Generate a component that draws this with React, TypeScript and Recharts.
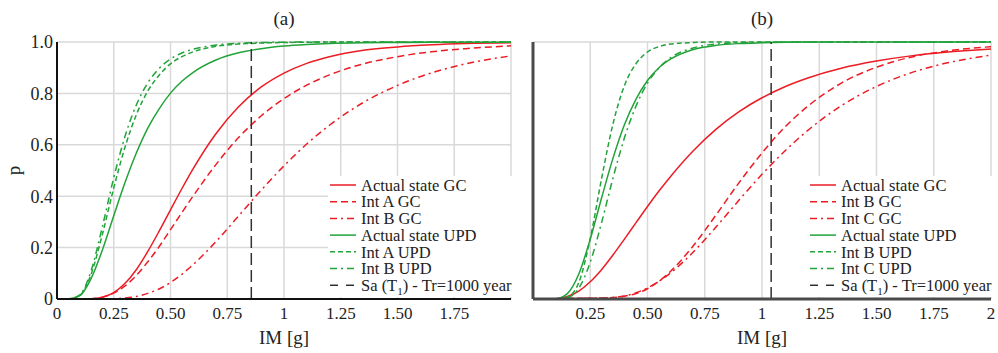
import { CartesianGrid, Legend, Line, LineChart, ReferenceLine, XAxis, YAxis } from "recharts";

// IM grid [g] shared by both panels
const im = [0, 0.05, 0.1, 0.15, 0.2, 0.25, 0.3, 0.35, 0.4, 0.45, 0.5, 0.55, 0.6, 0.7, 0.8, 0.9, 1.0, 1.1, 1.2, 1.35, 1.5, 1.65, 1.8, 2.0];

// panel (a)
const aActualGC = [0, 0, 0, 0.001, 0.007, 0.025, 0.061, 0.115, 0.185, 0.264, 0.347, 0.429, 0.507, 0.643, 0.748, 0.825, 0.879, 0.917, 0.943, 0.968, 0.981, 0.989, 0.994, 0.997];
const aIntAGC = [0, 0, 0, 0.001, 0.007, 0.023, 0.051, 0.092, 0.145, 0.204, 0.27, 0.336, 0.401, 0.523, 0.628, 0.713, 0.78, 0.832, 0.872, 0.915, 0.943, 0.962, 0.974, 0.985];
const aIntBGC = [0, 0, 0, 0, 0, 0.001, 0.004, 0.01, 0.022, 0.039, 0.064, 0.096, 0.134, 0.223, 0.323, 0.424, 0.518, 0.603, 0.676, 0.765, 0.831, 0.88, 0.915, 0.946];
const aActualUPD = [0, 0.001, 0.012, 0.079, 0.191, 0.324, 0.454, 0.569, 0.665, 0.74, 0.801, 0.847, 0.882, 0.93, 0.958, 0.974, 0.984, 0.99, 0.994, 0.997, 0.998, 0.999, 0.999, 1];
const aIntAUPD = [0, 0, 0.014, 0.096, 0.252, 0.432, 0.592, 0.718, 0.809, 0.871, 0.915, 0.943, 0.962, 0.983, 0.992, 0.996, 0.998, 0.999, 1, 1, 1, 1, 1, 1];
const aIntBUPD = [0, 0, 0.016, 0.109, 0.282, 0.472, 0.634, 0.756, 0.841, 0.897, 0.934, 0.957, 0.972, 0.988, 0.995, 0.998, 0.999, 1, 1, 1, 1, 1, 1, 1];

// panel (b)
const bActualGC = [0, 0, 0.001, 0.01, 0.031, 0.067, 0.115, 0.172, 0.234, 0.297, 0.36, 0.42, 0.476, 0.577, 0.661, 0.729, 0.783, 0.826, 0.86, 0.899, 0.926, 0.946, 0.96, 0.973];
const bIntBGC = [0, 0, 0, 0.002, 0.003, 0.003, 0.004, 0.006, 0.011, 0.021, 0.04, 0.069, 0.107, 0.207, 0.328, 0.453, 0.568, 0.669, 0.75, 0.842, 0.902, 0.941, 0.964, 0.982];
const bIntCGC = [0, 0, 0, 0.001, 0.002, 0.003, 0.004, 0.006, 0.012, 0.024, 0.043, 0.069, 0.101, 0.183, 0.281, 0.385, 0.485, 0.576, 0.656, 0.754, 0.827, 0.88, 0.917, 0.949];
const bActualUPD = [0, 0, 0.001, 0.021, 0.097, 0.233, 0.395, 0.55, 0.68, 0.778, 0.85, 0.9, 0.933, 0.971, 0.987, 0.994, 0.997, 0.999, 1, 1, 1, 1, 1, 1];
const bIntBUPD = [0, 0, 0, 0.008, 0.064, 0.235, 0.471, 0.684, 0.832, 0.916, 0.961, 0.982, 0.992, 0.998, 1, 1, 1, 1, 1, 1, 1, 1, 1, 1];
const bIntCUPD = [0, 0, 0, 0.005, 0.042, 0.143, 0.299, 0.473, 0.629, 0.751, 0.84, 0.899, 0.938, 0.977, 0.992, 0.997, 0.999, 1, 1, 1, 1, 1, 1, 1];

// Sa(T1) for Tr = 1000 years
const saA = 0.856;
const saB = 1.04;

const xTicks = [0, 0.25, 0.5, 0.75, 1, 1.25, 1.5, 1.75, 2];
const xLabelsA = ["0", "0.25", "0.50", "0.75", "1", "1.25", "1.50", "1.75", ""];
const xLabelsB = ["", "0.25", "0.50", "0.75", "1", "1.25", "1.50", "1.75", "2"];
const yTicks = [0, 0.2, 0.4, 0.6, 0.8, 1];
const yLabels = ["0", "0.2", "0.4", "0.6", "0.8", "1.0"];

const RED = "#ec1c24";
const GREEN = "#22a33a";
const SERIF = '"Liberation Serif", "Times New Roman", serif';
const DASH = "7 4";
const DASH_G = "5 3";
const DASH_DOT = "7 4 2 4";

type Series = { key: string; name: string; color: string; dash?: string; values: number[] };

const seriesA: Series[] = [
  { key: "gc", name: "Actual state GC", color: RED, values: aActualGC },
  { key: "gcA", name: "Int A GC", color: RED, dash: DASH, values: aIntAGC },
  { key: "gcB", name: "Int B GC", color: RED, dash: DASH_DOT, values: aIntBGC },
  { key: "upd", name: "Actual state UPD", color: GREEN, values: aActualUPD },
  { key: "updA", name: "Int A UPD", color: GREEN, dash: DASH_G, values: aIntAUPD },
  { key: "updB", name: "Int B UPD", color: GREEN, dash: DASH_DOT, values: aIntBUPD },
];

const seriesB: Series[] = [
  { key: "gc", name: "Actual state GC", color: RED, values: bActualGC },
  { key: "gcB", name: "Int B GC", color: RED, dash: DASH, values: bIntBGC },
  { key: "gcC", name: "Int C GC", color: RED, dash: DASH_DOT, values: bIntCGC },
  { key: "upd", name: "Actual state UPD", color: GREEN, values: bActualUPD },
  { key: "updB", name: "Int B UPD", color: GREEN, dash: DASH_G, values: bIntBUPD },
  { key: "updC", name: "Int C UPD", color: GREEN, dash: DASH_DOT, values: bIntCUPD },
];

function toRows(series: Series[]) {
  return im.map((x, i) => {
    const row: Record<string, number> = { im: x };
    series.forEach((s) => (row[s.key] = s.values[i]));
    return row;
  });
}

function CurveLegend({ series }: { series: Series[] }) {
  const rowH = 16.7;
  return (
    <svg width={190} height={122} style={{ display: "block", overflow: "visible" }}>
      {series.map((s, i) => (
        <g key={s.key} transform={`translate(2, ${9 + i * rowH})`}>
          <line x1={0} x2={26} y1={0} y2={0} stroke={s.color} strokeWidth={1.5} strokeDasharray={s.dash} />
          <text x={31} y={0} dy="0.35em" fontSize={16.5} fontFamily={SERIF} fill="#222">
            {s.name}
          </text>
        </g>
      ))}
      <g transform={`translate(2, ${9 + series.length * rowH})`}>
        <line x1={0} x2={26} y1={0} y2={0} stroke="#333" strokeWidth={1.5} strokeDasharray="8 8" />
        <text x={31} y={0} dy="0.35em" fontSize={16.5} fontFamily={SERIF} fill="#222">
          Sa (T
          <tspan fontSize={11} dy={4}>1</tspan>
          <tspan dy={-4}>) - Tr=1000 year</tspan>
        </text>
      </g>
    </svg>
  );
}

const PLabel = (props: any) => {
  const vb = props.viewBox;
  const cx = 14;
  const cy = vb.y + vb.height / 2;
  return (
    <text x={cx} y={cy} transform={`rotate(-90 ${cx} ${cy})`} textAnchor="middle" dy="0.3em" fontSize={19} fontFamily={SERIF} fill="#222">
      p
    </text>
  );
};

const tickStyle = { fontSize: 17, fontFamily: SERIF, fill: "#222" };

function Panel({
  series,
  sa,
  xLabels,
  width,
  left,
  showY,
  legendLeft,
}: {
  series: Series[];
  sa: number;
  xLabels: string[];
  width: number;
  left: number;
  showY: boolean;
  legendLeft: number;
}) {
  const axisColor = showY ? "#111" : "#4a4a4a";
  return (
    <div style={{ position: "absolute", left, top: 0 }}>
      <LineChart width={width} height={353} data={toRows(series)} margin={{ top: 42, right: showY ? 9 : 7, bottom: 0, left: 0 }}>
        <CartesianGrid stroke="#d9d9d9" strokeWidth={1.5} />
        <XAxis
          dataKey="im"
          type="number"
          domain={[0, 2]}
          ticks={xTicks}
          interval={0}
          height={54}
          tickLine={false}
          tickSize={6}
          tick={tickStyle}
          tickFormatter={(v: number) => xLabels[xTicks.indexOf(v)] ?? ""}
          axisLine={{ stroke: axisColor, strokeWidth: showY ? 2 : 3 }}
          label={{ value: "IM [g]", position: "insideBottom", offset: 9, fontSize: 19, fontFamily: SERIF, fill: "#222" }}
        />
        <YAxis
          type="number"
          domain={[0, 1]}
          ticks={yTicks}
          interval={0}
          width={showY ? 57 : 13}
          tickLine={false}
          tickSize={2}
          tick={showY ? { fontSize: 18, fontFamily: SERIF, fill: "#222" } : false}
          tickFormatter={(v: number) => yLabels[yTicks.indexOf(v)] ?? ""}
          axisLine={{ stroke: axisColor, strokeWidth: showY ? 2 : 3 }}
          label={showY ? { content: PLabel } : undefined}
        />
        {series.map((s) => (
          <Line
            key={s.key}
            type="monotone"
            dataKey={s.key}
            name={s.name}
            stroke={s.color}
            strokeWidth={1.5}
            strokeDasharray={s.dash}
            dot={false}
            activeDot={false}
            isAnimationActive={false}
          />
        ))}
        <ReferenceLine x={sa} stroke="#333" strokeWidth={1.5} strokeDasharray="12 5" />
        <Legend
          layout="vertical"
          align="center"
          verticalAlign="middle"
          content={() => <CurveLegend series={series} />}
          wrapperStyle={{ left: legendLeft, top: 176, width: 190, height: 121, background: "#fff" }}
        />
      </LineChart>
    </div>
  );
}

export default function App() {
  const title = { position: "absolute" as const, top: 9, fontSize: 19, lineHeight: "19px", fontFamily: SERIF, color: "#222", transform: "translateX(-50%)" };
  return (
    <div style={{ position: "absolute", left: 0, top: 0, width: 998, height: 353, background: "#fff", overflow: "hidden" }}>
      <Panel series={seriesA} sa={saA} xLabels={xLabelsA} width={520} left={0} showY legendLeft={328} />
      <Panel series={seriesB} sa={saB} xLabels={xLabelsB} width={478} left={520} showY={false} legendLeft={288} />
      <div style={{ ...title, left: 284 }}>(a)</div>
      <div style={{ ...title, left: 762 }}>(b)</div>
    </div>
  );
}
